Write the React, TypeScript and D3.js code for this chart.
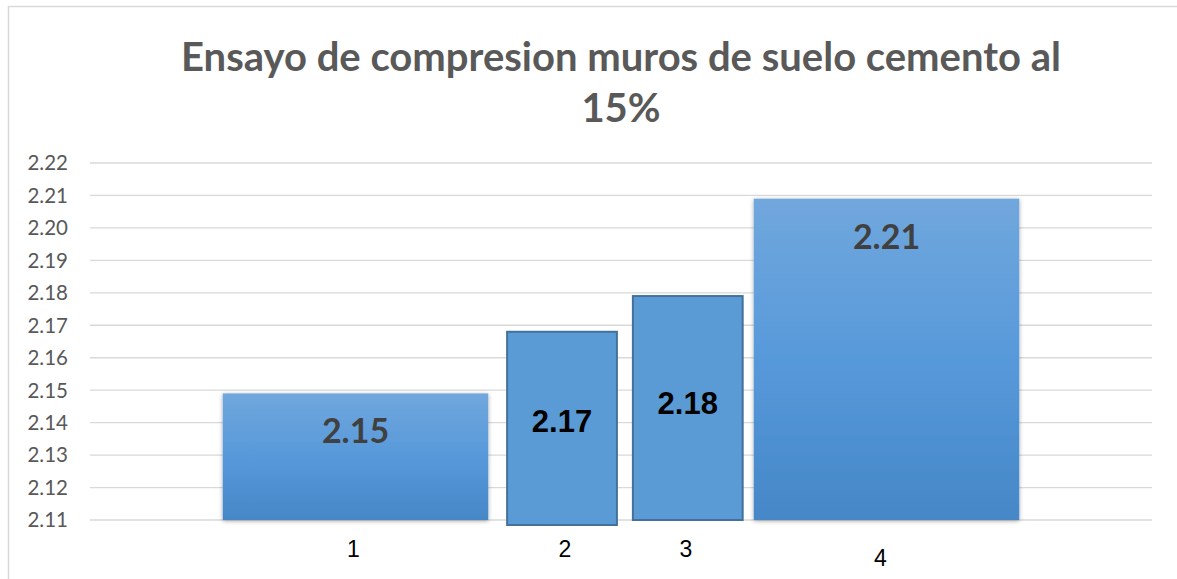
import React from 'react';
import * as d3 from 'd3';

// ---- data ----
const categories = ['1', '2', '3', '4'];
const values = [2.149, 2.168, 2.179, 2.209];
const valueLabels = ['2.15', '2.17', '2.18', '2.21'];
const slots = ['A', 'B', 'C'];
const slotOfCategory = ['A', 'B', 'B', 'C'];
const yTicks = [2.11, 2.12, 2.13, 2.14, 2.15, 2.16, 2.17, 2.18, 2.19, 2.2, 2.21, 2.22];
const titleLines = ['Ensayo de compresion muros de suelo cemento al', '15%'];

const W = 1177;
const H = 579;
const plot = { left: 90, right: 1152, top: 163, bottom: 520 };

export default function App() {
  const y = d3.scaleLinear().domain([2.11, 2.22]).range([plot.bottom, plot.top]);
  const slotScale = d3
    .scaleBand<string>()
    .domain(slots)
    .range([plot.left, plot.right])
    .paddingInner(0)
    .paddingOuter(0.5);

  const bars = categories.map((c, i) => {
    const slot = slotOfCategory[i];
    const members = categories.filter((_, j) => slotOfCategory[j] === slot);
    const s0 = slotScale(slot)!;
    const sw = slotScale.bandwidth();
    let x0 = s0;
    let w = sw;
    const shared = members.length > 1;
    if (shared) {
      const sub = d3
        .scaleBand<string>()
        .domain(members)
        .range([s0, s0 + sw])
        .paddingInner(0.127)
        .paddingOuter(0.119)
        .align(0.63);
      x0 = sub(c)!;
      w = sub.bandwidth();
    }
    return { c, v: values[i], label: valueLabels[i], x0, w, shared };
  });

  return (
    <div style={{ position: 'absolute', left: 0, top: 0 }}>
      <svg width={W} height={H} style={{ display: 'block', background: '#fff' }}>
        <defs>
          <linearGradient id="barGrad" x1="0" y1="0" x2="0" y2="1">
            <stop offset="0%" stopColor="#71a7dd" />
            <stop offset="50%" stopColor="#5799da" />
            <stop offset="100%" stopColor="#4587c7" />
          </linearGradient>
          <filter id="shadow" x="-5%" y="-5%" width="110%" height="110%">
            <feDropShadow dx="0" dy="1" stdDeviation="2" floodColor="#000" floodOpacity="0.35" />
          </filter>
        </defs>
        {/* outer border */}
        <line x1={8} x2={W} y1={6.5} y2={6.5} stroke="#d9d9d9" strokeWidth={1.5} />
        <line x1={8.5} x2={8.5} y1={6} y2={H} stroke="#d9d9d9" strokeWidth={1.5} />

        {/* title */}
        <g fontFamily="Lato, 'Open Sans', sans-serif" fontWeight="bold" fill="#595959" textAnchor="middle">
          <text x={621} y={71} fontSize={40}>{titleLines[0]}</text>
          <text x={621} y={122} fontSize={40}>{titleLines[1]}</text>
        </g>

        {/* gridlines + y tick labels */}
        {yTicks.map((t) => (
          <g key={t}>
            <line x1={plot.left} x2={plot.right} y1={y(t)} y2={y(t)} stroke="#d9d9d9" strokeWidth={1.3} />
            <text
              x={68}
              y={y(t)}
              dy="0.36em"
              textAnchor="end"
              fontFamily="Lato, 'Open Sans', sans-serif"
              fontSize={20.5}
              fill="#595959"
            >
              {t.toFixed(2)}
            </text>
          </g>
        ))}

        {/* bars */}
        {bars.map((b) =>
          b.shared ? (
            <rect
              key={b.c}
              x={b.x0}
              y={y(b.v)}
              width={b.w}
              height={plot.bottom - y(b.v) + (b.c === '2' ? 5 : 0)}
              fill="#5b9bd5"
              stroke="#41719c"
              strokeWidth={2}
            />
          ) : (
            <rect
              key={b.c}
              x={b.x0}
              y={y(b.v)}
              width={b.w}
              height={plot.bottom - y(b.v)}
              fill="url(#barGrad)"
              filter="url(#shadow)"
            />
          )
        )}

        {/* value labels */}
        {bars.map((b) =>
          b.shared ? (
            <text
              key={'l' + b.c}
              x={b.x0 + b.w / 2}
              y={(y(b.v) + plot.bottom) / 2 + 6}
              textAnchor="middle"
              fontFamily="'Liberation Sans', Arial, sans-serif"
              fontWeight="bold"
              fontSize={31}
              fill="#000"
            >
              {b.label}
            </text>
          ) : (
            <text
              key={'l' + b.c}
              x={b.x0 + b.w / 2}
              y={y(b.v) + 50}
              textAnchor="middle"
              fontFamily="Lato, 'Open Sans', sans-serif"
              fontWeight="bold"
              fontSize={34}
              fill="#404040"
            >
              {b.label}
            </text>
          )
        )}

        {/* x labels */}
        {bars.map((b) => (
          <text
            key={'x' + b.c}
            x={b.x0 + b.w / 2 - (b.c === '4' ? 6 : b.c === '2' ? -3 : 2)}
            y={b.c === '4' ? 566 : 557}
            textAnchor="middle"
            fontFamily="'Liberation Sans', Arial, sans-serif"
            fontSize={23}
            fill="#000"
          >
            {b.c}
          </text>
        ))}
      </svg>
    </div>
  );
}
